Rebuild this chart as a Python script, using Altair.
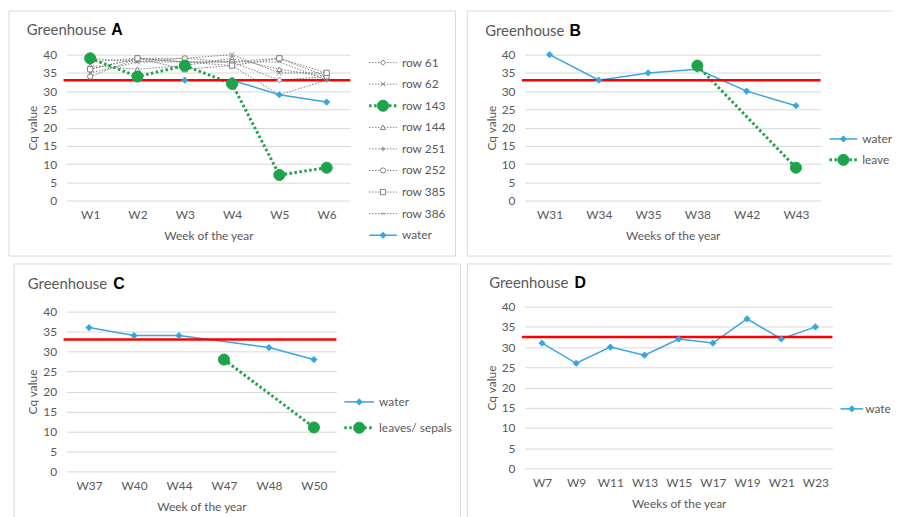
import altair as alt
import pandas as pd

FONT = "Lato"
TXT = "#595959"
GRID = "#D9D9D9"
BORDER = "#D9D9D9"
RED = "#FF0000"
BLUE = "#38A6DE"
GREEN = "#1FA34A"
GREY = "#808080"

# ---------------- data ----------------
y_ticks = [0, 5, 10, 15, 20, 25, 30, 35, 40]

# Greenhouse A
weeks_a = ["W1", "W2", "W3", "W4", "W5", "W6"]
row_61 = [36, 39, 38, 38, 33, 34]
row_62 = [35, 38, 39, 40, 35, 35]
row_143 = [39, 34, 37, 32, 7, 9]
row_144 = [37, 36, 37, 39, 36, 34]
row_251 = [38, 39, 38, 37, 29, 33]
row_252 = [34, 39, 39, 38, 39, 34]
row_385 = [36, 39, 36, 37, 39, 35]
row_386 = [39, 38, 38, 38, 38, 33]
water_a = [None, None, 33, 33, 29, 27]
threshold_a = 33

# Greenhouse B
weeks_b = ["W31", "W34", "W35", "W38", "W42", "W43"]
water_b = [40, 33, 35, 36, 30, 26]
leaves_b = [None, None, None, 37, None, 9]
threshold_b = 33

# Greenhouse C
weeks_c = ["W37", "W40", "W44", "W47", "W48", "W50"]
water_c = [36, 34, 34, None, 31, 28]
leaves_c = [None, None, None, 28, None, 11]
threshold_c = 33

# Greenhouse D
weeks_d = ["W7", "W9", "W11", "W13", "W15", "W17", "W19", "W21", "W23"]
water_d = [31, 26, 30, 28, 32, 31, 37, 32, 35]
threshold_d = 32.5

# ---------------- styles ----------------
GREY_LINE = dict(color=GREY, strokeWidth=1, strokeDash=[1.5, 1.5])
GREEN_LINE = dict(color=GREEN, strokeWidth=3, strokeDash=[2.5, 2.5])
BLUE_LINE = dict(color=BLUE, strokeWidth=1.5)


def grey_marker(shape, size=28):
    return dict(shape=shape, size=size, fill="white", stroke=GREY, strokeWidth=1)


GREEN_MARK = dict(shape="circle", size=125, fill=GREEN, stroke=GREEN, strokeWidth=1)
BLUE_MARK = dict(shape="diamond", size=45, fill=BLUE, stroke=BLUE, strokeWidth=0.5)

STYLES = {
    "row 61": (GREY_LINE, grey_marker("diamond")),
    "row 62": (GREY_LINE, grey_marker("M-1,-1L1,1M-1,1L1,-1", 22)),
    "row 143": (GREEN_LINE, GREEN_MARK),
    "row 144": (GREY_LINE, grey_marker("triangle-up")),
    "row 251": (GREY_LINE, grey_marker("M-1,0L1,0M0,-1L0,1", 22)),
    "row 252": (GREY_LINE, grey_marker("circle")),
    "row 385": (GREY_LINE, grey_marker("square")),
    "row 386": (GREY_LINE, grey_marker("M-1,0L1,0", 16)),
    "water": (BLUE_LINE, BLUE_MARK),
    "leaves": (GREEN_LINE, GREEN_MARK),
    "leaves/ sepals": (GREEN_LINE, GREEN_MARK),
}

PANELS = [
    dict(letter="A", weeks=weeks_a, w=286, h=147, thr=threshold_a, xtitle="Week of the year",
         series=[("row 61", row_61), ("row 62", row_62), ("row 143", row_143), ("row 144", row_144),
                 ("row 251", row_251), ("row 252", row_252), ("row 385", row_385),
                 ("row 386", row_386), ("water", water_a)],
         draw=["row 61", "row 62", "row 144", "row 251", "row 252", "row 385", "row 386", "water", "row 143"],
         title=(-40, -25), letter_x=45,
         legend=dict(x1=305, x2=333, tx=338, y0=8, y1=182, limits={}),
         border=[("h", -58, 392, -44), ("h", -58, 392, 203), ("v", -58, -44, 203), ("v", 392, -44, 203)]),
    dict(letter="B", weeks=weeks_b, w=298, h=147, thr=threshold_b, xtitle="Weeks of the year",
         series=[("water", water_b), ("leaves", leaves_b)],
         draw=["water", "leaves"],
         title=(-40, -24), letter_x=45,
         legend=dict(x1=307, x2=335, tx=340, y0=85, y1=106, limits={"leaves": 30}),
         border=[("h", -58, 369.5, -44), ("h", -58, 369.5, 203), ("v", -58, -44, 203)]),
    dict(letter="C", weeks=weeks_c, w=272, h=161, thr=threshold_c, xtitle="Week of the year",
         series=[("water", water_c), ("leaves/ sepals", leaves_c)],
         draw=["water", "leaves/ sepals"],
         title=(-39, -28), letter_x=47,
         legend=dict(x1=280, x2=310, tx=315, y0=91, y1=117, limits={}),
         border=[("h", -53, 397, -48), ("v", -53, -48, 209), ("v", 397, -48, 209)]),
    dict(letter="D", weeks=weeks_d, w=310, h=163, thr=threshold_d, xtitle="Weeks of the year",
         series=[("water", water_d)],
         draw=["water"],
         title=(-36, -24), letter_x=50,
         legend=dict(x1=318, x2=341, tx=343, y0=103, y1=103, limits={"water": 26.5}),
         border=[("h", -58, 369.5, -43), ("v", -58, -43, 214)]),
]

ONE = pd.DataFrame({"k": [0]})


def long_df(weeks, series):
    rows = []
    for name, vals in series:
        for wk, v in zip(weeks, vals):
            if v is not None:
                rows.append({"week": wk, "series": name, "value": v})
    return pd.DataFrame(rows)


def make_panel(p):
    W, H = p["w"], p["h"]
    weeks = p["weeks"]
    df = long_df(weeks, p["series"])
    labels = [s for s, _ in p["series"]]

    xenc = alt.X("week:N", sort=weeks,
                 scale=alt.Scale(type="point", domain=weeks, padding=0.5),
                 axis=alt.Axis(title=p["xtitle"], labelAngle=0, domain=False, ticks=False, grid=False,
                               labelPadding=9, titleY=35, titleBaseline="middle"))
    yscale = alt.Scale(domain=[0, 40], nice=False, zero=True)
    yaxis = alt.Axis(values=y_ticks, title="Cq value", grid=True, gridColor=GRID, gridWidth=1,
                     domain=False, ticks=False, labelPadding=10,
                     titleX=-34, titleY=H / 2, titleBaseline="middle", titleAlign="center")

    layers = []
    # panel frame
    for seg in p["border"]:
        _, a, b, c = seg
        if seg[0] == "h":
            enc = dict(x=alt.value(a), x2=alt.value(b), y=alt.value(c))
        else:
            enc = dict(x=alt.value(a), y=alt.value(b), y2=alt.value(c))
        layers.append(alt.Chart(ONE).mark_rule(color=BORDER, strokeWidth=1).encode(**enc))
    # title
    tx, ty = p["title"]
    layers.append(alt.Chart(ONE).mark_text(text="Greenhouse", align="left", baseline="middle",
                                           font=FONT, fontSize=15, color=TXT).encode(
        x=alt.value(tx), y=alt.value(ty)))
    layers.append(alt.Chart(ONE).mark_text(text=p["letter"], align="left", baseline="middle",
                                           font="Liberation Sans", fontSize=16, fontWeight="bold",
                                           color="black").encode(
        x=alt.value(p["letter_x"]), y=alt.value(ty)))

    # data lines
    first = True
    for s in p["draw"]:
        line_style, _ = STYLES[s]
        d = df[df.series == s]
        layers.append(alt.Chart(d).mark_line(**line_style).encode(
            x=xenc, y=alt.Y("value:Q", scale=yscale, axis=yaxis if first else None)))
        first = False
    # threshold
    layers.append(alt.Chart(ONE).mark_rule(color=RED, strokeWidth=2.5).encode(
        y=alt.YDatum(p["thr"], scale=yscale, axis=None), x=alt.value(-3), x2=alt.value(W)))
    # data points
    for s in p["draw"]:
        _, mk = STYLES[s]
        d = df[df.series == s]
        layers.append(alt.Chart(d).mark_point(opacity=1, filled=True, **mk).encode(
            x=xenc, y=alt.Y("value:Q", scale=yscale, axis=None)))

    # legend
    lg = p["legend"]
    lscale = alt.Scale(type="point", domain=labels, range=[lg["y0"], lg["y1"]], padding=0)
    for s in labels:
        line_style, mk = STYLES[s]
        d = pd.DataFrame({"label": [s]})
        ly = alt.Y("label:N", scale=lscale, axis=None)
        layers.append(alt.Chart(d).mark_rule(**line_style).encode(
            x=alt.value(lg["x1"]), x2=alt.value(lg["x2"]), y=ly))
        layers.append(alt.Chart(d).mark_point(opacity=1, filled=True, **mk).encode(
            x=alt.value((lg["x1"] + lg["x2"]) / 2), y=ly))
        tkw = dict(align="left", baseline="middle", font=FONT, fontSize=12, color=TXT)
        if s in lg["limits"]:
            tkw.update(limit=lg["limits"][s], ellipsis="\u200b")
        layers.append(alt.Chart(d).mark_text(**tkw).encode(
            x=alt.value(lg["tx"]), y=ly, text="label:N"))

    return alt.layer(*layers).resolve_scale(y="independent").properties(width=W, height=H)


panels = [make_panel(p) for p in PANELS]

chart = alt.concat(
    *panels, columns=2, align="none", spacing={"row": 6, "column": 5}
).properties(
    padding={"left": 0, "top": 0, "right": 0, "bottom": 0}
).configure_view(stroke=None).configure_axis(
    labelFont=FONT, titleFont=FONT, labelFontSize=12, titleFontSize=12,
    labelColor=TXT, titleColor=TXT, titleFontWeight="normal"
)

chart.save("out.html", embed_options={"renderer": "svg", "actions": False})
